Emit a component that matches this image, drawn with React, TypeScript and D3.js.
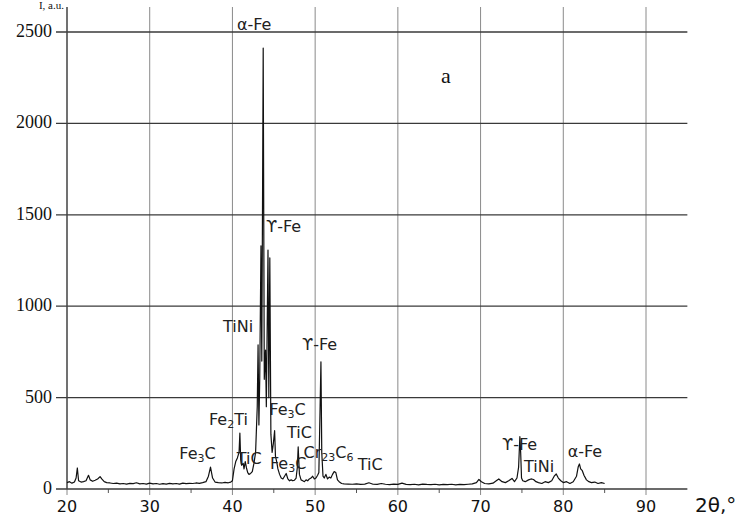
import React from 'react';
import * as d3 from 'd3';

// diffraction pattern: 2θ (deg) and intensity
const twoTheta = [
  20.0, 20.3, 20.6, 20.9, 21.1, 21.25, 21.4, 21.7, 22.0, 22.3, 22.6, 22.8, 23.1, 23.4, 23.7, 24.0, 24.2, 24.5, 24.8,
  25.2, 25.6, 26.0, 26.4, 26.8, 27.2, 27.6, 28.0, 28.4, 28.8, 29.2, 29.6, 30.0, 30.4, 30.8, 31.2, 31.6, 32.0, 32.4,
  32.8, 33.2, 33.6, 34.0, 34.4, 34.8, 35.2, 35.6, 36.0, 36.4, 36.8, 37.1, 37.35, 37.6, 37.9, 38.3, 38.7, 39.1, 39.5,
  39.8, 40.0, 40.2, 40.4, 40.6, 40.8, 40.9, 41.0, 41.1, 41.3, 41.4, 41.55, 41.7, 41.85, 42.0, 42.2, 42.4, 42.6, 42.8,
  43.0, 43.1, 43.2, 43.3, 43.45, 43.55, 43.65, 43.72, 43.85, 44.0, 44.1, 44.3, 44.4, 44.52, 44.65, 44.8, 44.95, 45.1,
  45.2, 45.35, 45.5, 45.7, 45.9, 46.1, 46.3, 46.5, 46.7, 46.9, 47.1, 47.3, 47.5, 47.7, 47.85, 47.95, 48.1, 48.3, 48.5,
  48.7, 48.9, 49.1, 49.3, 49.5, 49.7, 49.9, 50.1, 50.3, 50.45, 50.6, 50.7, 50.8, 50.95, 51.1, 51.3, 51.5, 51.7, 51.9,
  52.1, 52.3, 52.5, 52.7, 52.9, 53.2, 53.5, 54.0, 54.5, 55.0, 55.5, 56.0, 56.5, 57.0, 57.5, 58.0, 58.5, 59.0, 59.5,
  60.0, 60.5, 61.0, 61.5, 62.0, 62.5, 63.0, 63.5, 64.0, 64.5, 65.0, 65.5, 66.0, 66.5, 67.0, 67.5, 68.0, 68.5, 69.0,
  69.5, 69.8, 70.1, 70.5, 71.0, 71.5, 71.9, 72.2, 72.6, 73.0, 73.4, 73.8, 74.1, 74.4, 74.6, 74.75, 74.85, 74.95, 75.1,
  75.4, 75.8, 76.1, 76.4, 76.7, 77.0, 77.4, 77.8, 78.2, 78.6, 78.9, 79.15, 79.4, 79.7, 80.0, 80.4, 80.8, 81.2, 81.6,
  81.8, 81.95, 82.1, 82.3, 82.5, 82.8, 83.1, 83.4, 83.8, 84.2, 84.6, 85.0,
];
const intensity = [
  35, 40, 32, 38, 60, 115, 45, 38, 40, 45, 75, 50, 42, 48, 55, 68, 55, 40, 35,
  33, 30, 32, 28, 30, 27, 31, 29, 34, 28, 30, 27, 32, 28, 30, 26, 29, 27, 31,
  28, 30, 27, 32, 29, 31, 30, 33, 31, 35, 40, 70, 120, 60, 38, 35, 33, 36, 34,
  38, 45, 110, 150, 170, 200, 306, 160, 130, 140, 110, 150, 115, 90, 80, 85, 95, 140, 200,
  450, 788, 350, 600, 1330, 700, 1673, 2412, 600, 760, 450, 1307, 500, 1264, 300, 200, 250, 319,
  180, 150, 110, 80, 60, 55, 70, 85, 55, 45, 50, 45, 48, 60, 120, 230, 80, 50, 45,
  40, 50, 45, 55, 60, 70, 55, 60, 75, 90, 450, 696, 200, 70, 60, 80, 55, 65, 60,
  80, 95, 90, 50, 40, 30, 28, 27, 26, 28, 25, 27, 34, 26, 25, 30, 26, 24, 27,
  25, 32, 25, 24, 26, 23, 27, 25, 24, 26, 23, 25, 24, 26, 23, 25, 24, 26, 28,
  35, 52, 40, 30, 28, 32, 45, 55, 40, 35, 45, 58, 40, 60, 120, 286, 197, 60, 45,
  40, 50, 55, 52, 40, 35, 30, 40, 35, 45, 70, 82, 60, 45, 35, 40, 30, 40, 70,
  120, 137, 110, 100, 75, 50, 40, 35, 38, 30, 35, 30,
];

const xTicks = [20, 30, 40, 50, 60, 70, 80, 90];
const xMinorTicks = [25, 35, 45, 55, 65, 75, 85];
const yTicks = [0, 500, 1000, 1500, 2000, 2500];

// phase labels: text pieces (true = subscript), anchored at (2θ, intensity) of the label's left baseline
const labels = [
  { parts: [['α-Fe', false]], t: 40.55, i: 2511 },
  { parts: [['ϒ-Fe', false]], t: 44.06, i: 1406 },
  { parts: [['TiNi', false]], t: 38.86, i: 859 },
  { parts: [['ϒ-Fe', false]], t: 48.41, i: 760 },
  { parts: [['Fe', false], ['3', true], ['C', false]], t: 44.46, i: 405 },
  { parts: [['Fe', false], ['2', true], ['Ti', false]], t: 37.17, i: 350 },
  { parts: [['TiC', false]], t: 46.6, i: 280 },
  { parts: [['Fe', false], ['3', true], ['C', false]], t: 33.58, i: 164 },
  { parts: [['TiC', false]], t: 40.52, i: 137 },
  { parts: [['Cr', false], ['23', true], ['C', false], ['6', true]], t: 48.6, i: 170 },
  { parts: [['Fe', false], ['3', true], ['C', false]], t: 44.54, i: 109 },
  { parts: [['TiC', false]], t: 55.15, i: 104 },
  { parts: [['ϒ-Fe', false]], t: 72.59, i: 213 },
  { parts: [['TiNi', false]], t: 75.25, i: 95 },
  { parts: [['α-Fe', false]], t: 80.53, i: 177 },
];

export default function App() {
  const width = 742;
  const height = 517;

  const x = d3.scaleLinear().domain([20, 90]).range([67, 646]);
  const y = d3.scaleLinear().domain([0, 2500]).range([489, 32]);
  const xEnd = x(95);
  const yTop = 7;

  const points = twoTheta.map((t, k) => [t, intensity[k]] as [number, number]);
  const line = d3.line<[number, number]>()
    .x(d => x(d[0]))
    .y(d => y(d[1]));

  const sans = 'DejaVu Sans, sans-serif';
  const serif = 'Liberation Serif, Times New Roman, serif';

  return (
    <div style={{ position: 'absolute', left: 0, top: 0 }}>
      <svg width={width} height={height} style={{ display: 'block', background: '#fff' }}>
        {/* vertical grid */}
        {xTicks.map(t => (
          <line key={'vg' + t} x1={x(t)} x2={x(t)} y1={yTop} y2={y(0) + 6} stroke="#8a8a8a" strokeWidth={1} />
        ))}
        {xMinorTicks.map(t => (
          <line key={'mt' + t} x1={x(t)} x2={x(t)} y1={y(0)} y2={y(0) + 4} stroke="#555" strokeWidth={1} />
        ))}
        {/* horizontal grid */}
        {yTicks.map(v => (
          <line key={'hg' + v} x1={56} x2={xEnd} y1={y(v)} y2={y(v)} stroke="#3a3a3a" strokeWidth={1.3} />
        ))}
        {/* y axis */}
        <line x1={x(20)} x2={x(20)} y1={yTop} y2={y(0)} stroke="#444" strokeWidth={1.3} />

        {yTicks.map(v => (
          <text key={'yl' + v} x={52} y={y(v) + 5} textAnchor="end" fontFamily={serif} fontSize={18} fill="#111">
            {v}
          </text>
        ))}
        {xTicks.map(t => (
          <text key={'xl' + t} x={x(t)} y={512} textAnchor="middle" fontFamily={sans} fontSize={16} fill="#111">
            {t}
          </text>
        ))}
        <text x={695} y={512} fontFamily={sans} fontSize={20} fill="#111">2θ,°</text>
        <text x={64} y={9} textAnchor="end" fontFamily={serif} fontSize={11} fill="#111">I, a.u.</text>

        {/* pattern */}
        <path d={line(points) || ''} fill="none" stroke="#111" strokeWidth={1.2} strokeLinejoin="round" />

        {labels.map((l, k) => (
          <text key={'lb' + k} x={x(l.t)} y={y(l.i)} fontFamily={sans} fontSize={16} fill="#222">
            {l.parts.map(([s, sub], j) => (
              <tspan key={j} fontSize={sub ? 11 : 16} baselineShift={sub ? '-3' : undefined}>{s as string}</tspan>
            ))}
          </text>
        ))}

        <text x={x(65.82)} y={y(2221)} textAnchor="middle" fontFamily={serif} fontSize={22} fill="#111">a</text>
      </svg>
    </div>
  );
}
